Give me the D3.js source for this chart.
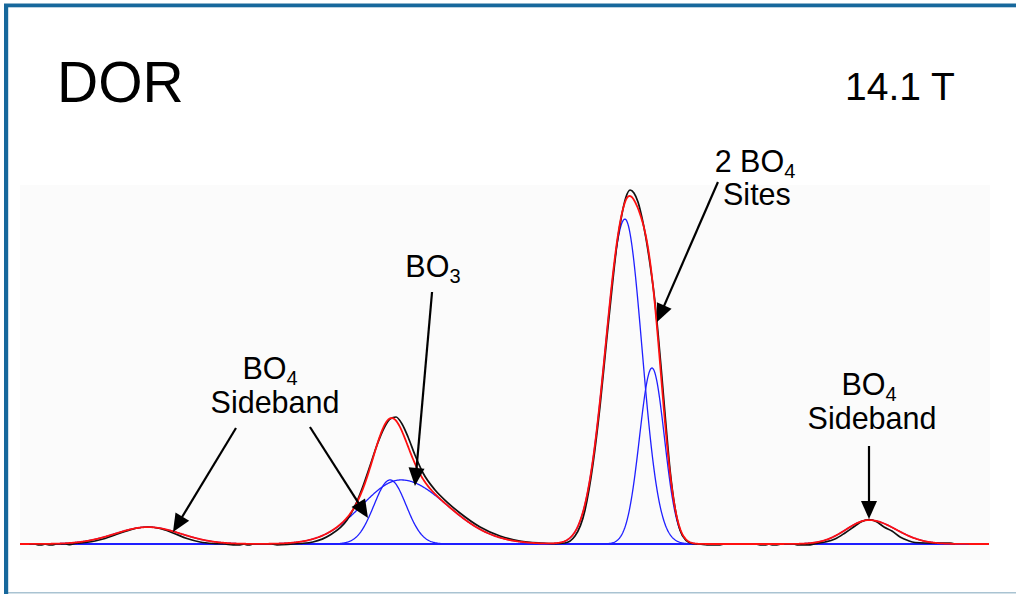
<!DOCTYPE html>
<html>
<head>
<meta charset="utf-8">
<script src="https://cdn.jsdelivr.net/npm/d3@7"></script>
<style>
  body { margin: 0; background: #fff; }
  svg { display: block; }
</style>
</head>
<body>
<svg id="chart" width="1016" height="594"></svg>
<script>
// 11B DOR spectrum (14.1 T): experimental trace, fitted components and their sum.

// Fitted line components: centre (ppm), height (% of max), half-widths on the
// high-ppm and low-ppm sides (ppm, Gaussian sigma).
const componentNames   = ["BO4 site 1", "BO4 site 2", "BO3", "BO4 sideband +1", "BO4 sideband -1", "BO4 sideband +2"];
const componentCenters = [-0.33, -2.13, 14.60, 15.33, -16.60, 31.47];
const componentHeights = [92.3, 50.0, 18.2, 18.2, 6.8, 4.8];
const widthHigh        = [1.30, 0.83, 2.60, 1.07, 1.53, 2.20];
const widthLow         = [1.13, 0.83, 3.07, 1.07, 1.80, 2.20];

// Experimental spectrum (ppm, intensity %)
const expShift = [
  40.00, 39.00, 38.80, 38.53, 38.33, 38.07, 37.80, 37.60, 36.93, 36.67,
  36.33, 35.67, 35.00, 34.33, 33.67, 33.00, 32.33, 31.47, 30.67, 29.80,
  28.87, 28.00, 27.13, 26.33, 25.80, 25.33, 25.07, 24.87, 24.67, 24.47,
  23.20, 22.87, 21.33, 20.47, 19.33, 18.20, 17.67, 17.13, 16.67, 16.20,
  15.73, 15.33, 14.93, 14.53, 14.13, 13.67, 13.13, 12.33, 11.53, 10.67,
  9.33, 8.00, 6.67, 5.33, 4.33, 3.67, 3.00, 2.33, 1.80, 1.33,
  0.87, 0.53, 0.20, -0.13, -0.40, -0.67, -0.93, -1.20, -1.47, -1.73,
  -2.00, -2.27, -2.53, -2.80, -3.07, -3.33, -3.67, -4.00, -4.40, -4.80,
  -5.33, -5.80, -6.67, -6.93, -9.07, -9.33, -9.73, -9.93, -10.13, -10.47,
  -10.73, -11.60, -11.80, -12.67, -13.00, -13.67, -14.33, -15.00, -15.67, -16.13,
  -16.60, -17.07, -17.60, -18.13, -18.67, -19.20, -19.67, -20.33, -22.00, -22.33
];
const expIntensity = [
  0, 0, -0.23, -0.23, 0, -0.23, -0.23, 0, 0, -0.20,
  0.14, 0.43, 0.85, 1.56, 2.56, 3.55, 4.40, 4.83, 4.40, 3.13,
  1.56, 0.57, 0.14, 0, -0.23, -0.23, 0, -0.23, -0.23, 0,
  0, -0.23, 0.14, 0.57, 2.56, 6.82, 10.80, 16.48, 22.16, 28.13,
  32.95, 35.51, 36.08, 34.09, 30.40, 25.28, 20.17, 15.34, 11.93, 8.81,
  4.83, 2.27, 0.85, 0.28, 0.09, 0.28, 2.27, 9.66, 22.73, 39.20,
  58.81, 72.73, 85.23, 93.75, 98.58, 100.57, 99.72, 97.16, 92.61, 86.93,
  79.55, 71.02, 60.23, 47.16, 33.52, 21.31, 10.23, 3.98, 0.99, 0.14,
  0, -0.23, -0.23, 0, 0, -0.23, -0.23, 0, -0.23, -0.23,
  0, 0, -0.23, -0.23, 0.09, 0.57, 1.42, 3.13, 5.11, 6.39,
  6.96, 6.39, 4.83, 3.69, 1.99, 0.99, 0.43, 0.28, 0.23, 0
];

// Annotation labels: one entry per label, each with one or two lines
// anchored at (ppm, intensity); arrows run from tail to tip.
const labelLines = [
  [{ text: "2 BO", sub: "4", x: -9.00, y: 105.7 }, { text: "Sites", sub: "", x: -9.13, y: 96.3 }],
  [{ text: "BO", sub: "3", x: 12.47, y: 75.9 }],
  [{ text: "BO", sub: "4", x: 23.33, y: 46.9 }, { text: "Sideband", sub: "", x: 23.00, y: 37.2 }],
  [{ text: "BO", sub: "4", x: -16.60, y: 42.3 }, { text: "Sideband", sub: "", x: -16.80, y: 32.7 }]
];
const arrowTails = [[25.60, 32.95], [20.67, 33.24], [12.53, 71.59], [-6.53, 102.84], [-16.60, 27.84]];
const arrowTips  = [[29.80, 3.41], [16.80, 7.39], [13.67, 16.48], [-2.47, 63.07], [-16.60, 7.10]];

const svg = d3.select("#chart");
const W = 1016, H = 594;

const x = d3.scaleLinear().domain([40, -24.6]).range([20, 989]);
const y = d3.scaleLinear().domain([0, 100]).range([544, 192]);

// Frame and plot backdrop
svg.append("rect").attr("x", 20).attr("y", 185).attr("width", 970).attr("height", 375).attr("fill", "#fbfbfb");
svg.append("rect").attr("x", 4).attr("y", 592).attr("width", W - 4).attr("height", 1.5).attr("fill", "#a9c3d2");
svg.append("rect").attr("x", 4).attr("y", 3).attr("width", W - 4).attr("height", 1).attr("fill", "#8db4cc");
svg.append("rect").attr("x", 4).attr("y", 4).attr("width", W - 4).attr("height", 3.3).attr("fill", "#17689c");
svg.append("rect").attr("x", 4).attr("y", 4).attr("width", 4.2).attr("height", H - 4).attr("fill", "#17689c");

// Component line shape (split Gaussian)
function comp(i, d) {
  const dd = d - componentCenters[i];
  const w = dd >= 0 ? widthHigh[i] : widthLow[i];
  return componentHeights[i] * Math.exp(-0.5 * (dd / w) * (dd / w));
}
const grid = d3.range(40, -24.6 - 1e-9, -0.04);

const line = d3.line().x(d => x(d[0])).y(d => y(d[1]));

const gComp = svg.append("g");
componentNames.forEach((name, i) => {
  gComp.append("path")
    .datum(grid.map(d => [d, comp(i, d)]))
    .attr("d", line)
    .attr("fill", "none")
    .attr("stroke", "#1f1fff")
    .attr("stroke-width", 1.3)
    .attr("stroke-linejoin", "round");
});

// Experimental trace
const expData = expShift.map((s, i) => [s, expIntensity[i]]);
svg.append("path")
  .datum(expData)
  .attr("d", d3.line().x(d => x(d[0])).y(d => y(d[1])).curve(d3.curveMonotoneX))
  .attr("fill", "none")
  .attr("stroke", "#111")
  .attr("stroke-width", 1.7)
  .attr("stroke-linejoin", "round");

// Sum of the fitted components
svg.append("path")
  .datum(grid.map(d => [d, d3.sum(componentNames, (n, i) => comp(i, d))]))
  .attr("d", line)
  .attr("fill", "none")
  .attr("stroke", "#ff1010")
  .attr("stroke-width", 1.8)
  .attr("stroke-linejoin", "round");

// Arrows
const headLen = 18, headHalf = 8;
const gArr = svg.append("g");
arrowTails.forEach((t, i) => {
  const x0 = x(t[0]), y0 = y(t[1]);
  const x1 = x(arrowTips[i][0]), y1 = y(arrowTips[i][1]);
  const len = Math.hypot(x1 - x0, y1 - y0);
  const ux = (x1 - x0) / len, uy = (y1 - y0) / len;
  const bx = x1 - ux * headLen, by = y1 - uy * headLen;
  gArr.append("line")
    .attr("x1", x0).attr("y1", y0)
    .attr("x2", bx + ux * 4).attr("y2", by + uy * 4)
    .attr("stroke", "#000").attr("stroke-width", 2.2);
  gArr.append("path")
    .attr("d", `M${x1},${y1}L${bx - uy * headHalf},${by + ux * headHalf}L${bx + uy * headHalf},${by - ux * headHalf}Z`)
    .attr("fill", "#000");
});

// Labels (each multi-line label is a single text element)
const font = "'Liberation Sans', Arial, Helvetica, sans-serif";
labelLines.forEach(lines => {
  const t = svg.append("text")
    .attr("text-anchor", "middle")
    .attr("font-family", font)
    .attr("font-size", 30.5)
    .attr("fill", "#000");
  lines.forEach(l => {
    const row = t.append("tspan").attr("x", x(l.x)).attr("y", y(l.y));
    row.append("tspan").text(l.text);
    if (l.sub) row.append("tspan").attr("font-size", 20).attr("dy", 6).text(l.sub);
  });
});

svg.append("text").attr("x", 57).attr("y", 102)
  .attr("font-family", font).attr("font-size", 57).attr("fill", "#000").text("DOR");
svg.append("text").attr("x", 845).attr("y", 100)
  .attr("font-family", font).attr("font-size", 39).attr("fill", "#000").text("14.1 T");
</script>
</body>
</html>
